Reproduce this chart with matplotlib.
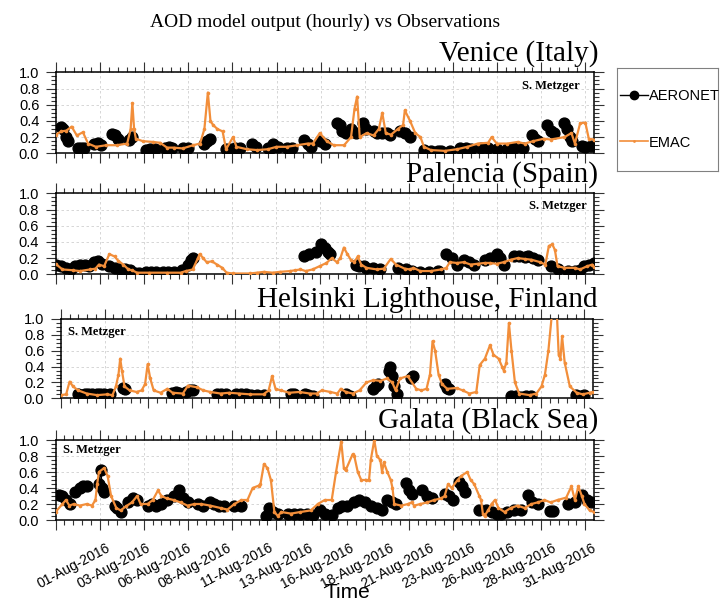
import numpy as np
import matplotlib.pyplot as plt
from matplotlib.lines import Line2D
from matplotlib.ticker import MultipleLocator, FormatStrFormatter

plt.rcParams['font.family'] = ['Liberation Sans', 'DejaVu Sans']

nan = np.nan
emac_color = '#f28e3a'

# time axis: days since 01-Aug-2016 00:00

# ---------------- Venice (Italy) ----------------
venice_emac_day = [0.0, 0.3, 0.6, 0.9, 1.2, 1.55, 1.85, 2.3, 2.9, 3.5, 4.1, 4.3, 4.4, 4.5, 4.6,
                   5.0, 5.6, 6.0, 6.4, 6.8, 7.3, 7.9, 8.3, 8.55, 8.75, 8.9, 9.05, 9.3, 9.6, 9.8,
                   10.2, 10.4, 11.0, 11.6, 12.2, 12.7, 13.3, 13.9, 14.5, 14.8, 15.2, 15.6, 16.0,
                   16.6, 17.0, 17.2, 17.35, 17.5, 17.9, 18.3, 18.6, 18.8, 19.0, 19.3, 19.7, 20.0,
                   20.1, 20.4, 20.7, 21.0, 21.2, 21.6, 22.4, 23.1, 23.7, 24.3, 24.9, 25.1, 25.4,
                   26.0, 26.6, 27.0, 27.5, 28.1, 28.5, 29.3, 29.7, 29.9, 30.2, 30.5, 30.7, 31.0]
venice_emac_aod = [0.23, 0.27, 0.28, 0.33, 0.22, 0.26, 0.12, 0.08, 0.10, 0.10, 0.12, 0.30, 0.62, 0.30, 0.18,
                   0.15, 0.14, 0.13, 0.07, 0.07, 0.06, 0.10, 0.12, 0.30, 0.75, 0.40, 0.35, 0.30, 0.27, 0.05,
                   0.20, 0.08, 0.05, 0.04, 0.05, 0.08, 0.08, 0.10, 0.12, 0.12, 0.25, 0.15, 0.10,
                   0.10, 0.20, 0.55, 0.70, 0.20, 0.25, 0.22, 0.30, 0.50, 0.25, 0.23, 0.30, 0.35,
                   0.53, 0.40, 0.25, 0.20, 0.08, 0.04, 0.03, 0.05, 0.08, 0.12, 0.13, 0.20, 0.12,
                   0.12, 0.14, 0.12, 0.15, 0.18, 0.17, 0.20, 0.25, 0.12, 0.37, 0.38, 0.18, 0.17]
venice_aero_day = [0.3, 0.4, 0.55, 0.7, nan, 1.25, 1.45, 1.6, nan, 2.2, 2.4, 2.6, nan, 3.2, 3.4, 3.6, nan,
                   4.2, 4.4, nan, 5.2, nan, 5.4, 5.7, nan, 6.3, 6.5, 6.7, nan, 7.3, 7.6, nan,
                   8.5, 8.7, 8.9, nan, 9.8, 10.0, nan, 10.3, 10.6, nan, 11.3, 11.5, nan, 12.2, 12.4, nan,
                   12.5, 12.8, nan, 13.3, 13.6, nan, 14.3, 14.5, 14.7, nan, 15.2, 15.5, nan,
                   16.2, 16.35, 16.5, 16.7, nan, 17.0, 17.3, nan, 17.7, 17.85, nan, 18.3, 18.5, 18.8, nan,
                   19.1, 19.25, nan, 19.8, 20.1, 20.4, nan, 21.2, 21.6, 22.0, nan, 22.2, 22.7, nan,
                   23.3, 23.6, 23.9, nan, 24.5, 24.9, nan, 25.4, 26.0, nan, 26.4, 26.9, nan,
                   27.4, 27.6, 27.8, nan, 28.3, 28.5, 28.7, nan, 29.3, 29.45, 29.6, 29.75, nan,
                   30.3, 30.5, 30.8]
venice_aero_aod = [0.32, 0.30, 0.20, 0.15, nan, 0.07, 0.06, 0.06, nan, 0.11, 0.13, 0.10, nan, 0.24, 0.22, 0.18, nan,
                   0.17, 0.20, nan, 0.04, nan, 0.05, 0.05, nan, 0.07, 0.08, 0.07, nan, 0.06, 0.07, nan,
                   0.12, 0.15, 0.18, nan, 0.05, 0.05, nan, 0.06, 0.06, nan, 0.12, 0.08, nan, 0.06, 0.06, nan,
                   0.12, 0.08, nan, 0.06, 0.06, nan, 0.16, 0.12, 0.08, nan, 0.15, 0.12, nan,
                   0.38, 0.35, 0.28, 0.25, nan, 0.30, 0.25, nan, 0.38, 0.30, nan, 0.28, 0.25, 0.25, nan,
                   0.25, 0.22, nan, 0.27, 0.25, 0.20, nan, 0.04, 0.03, 0.03, nan, 0.03, 0.03, nan,
                   0.06, 0.06, 0.05, nan, 0.06, 0.06, nan, 0.05, 0.05, nan, 0.07, 0.06, nan,
                   0.23, 0.18, 0.15, nan, 0.35, 0.28, 0.25, nan, 0.37, 0.30, 0.20, 0.15, nan,
                   0.09, 0.08, 0.09]

# ---------------- Palencia (Spain) ----------------
palencia_emac_day = [0.0, 0.4, 1.0, 1.4, 2.0, 2.3, 2.5, 2.8, 3.1, 3.4, 3.6, 3.9, 4.2, 4.4, 4.7, 5.4,
                     6.4, 7.2, 7.5, 7.9, 8.2, 8.3, 8.5, 8.7, 9.0, 9.3, 9.6, 9.85, 10.2, 11.2, 11.6,
                     12.0, 12.5, 12.9, 13.5, 13.8, 14.1, 14.4, 14.8, 15.2, 15.6, 15.9, 16.2, 16.4,
                     16.6, 16.8, 17.0, 17.2, 17.4, 17.6, 17.9, 18.5, 18.9, 19.3, 19.6, 20.1, 20.4,
                     20.6, 21.0, 21.6, 22.2, 22.5, 22.7, 23.1, 23.5, 23.9, 24.3, 24.7, 25.0, 25.4,
                     25.8, 26.2, 26.6, 27.0, 27.4, 27.9, 28.2, 28.4, 28.6, 28.75, 28.9, 29.3, 29.9,
                     30.2, 30.6, 30.9, 31.0]
palencia_emac_aod = [0.13, 0.06, 0.05, 0.04, 0.06, 0.07, 0.12, 0.10, 0.25, 0.22, 0.17, 0.12, 0.06, 0.05, 0.02, 0.02,
                     0.02, 0.02, 0.04, 0.06, 0.20, 0.25, 0.20, 0.15, 0.16, 0.12, 0.08, 0.02, 0.01, 0.01, 0.02,
                     0.03, 0.02, 0.03, 0.04, 0.05, 0.06, 0.04, 0.06, 0.10, 0.14, 0.20, 0.15, 0.20,
                     0.33, 0.25, 0.18, 0.15, 0.22, 0.12, 0.08, 0.06, 0.07, 0.19, 0.12, 0.07, 0.06,
                     0.08, 0.04, 0.04, 0.06, 0.08, 0.15, 0.14, 0.15, 0.12, 0.13, 0.14, 0.14, 0.13,
                     0.15, 0.18, 0.20, 0.19, 0.18, 0.15, 0.12, 0.35, 0.37, 0.30, 0.10, 0.08, 0.08,
                     0.06, 0.10, 0.12, 0.09]
palencia_aero_day = [0.05, 0.3, 0.6, 0.9, nan, 1.15, 1.4, 1.7, 1.9, nan, 2.2, 2.45, 2.7, nan,
                     3.1, 3.4, 3.7, 4.0, nan, 4.3, 4.6, 4.8, nan, 5.2, 5.5, 5.8, nan, 6.2, 6.5, 6.8, nan,
                     7.3, 7.6, 7.8, 7.9, nan, 14.3, 14.6, 15.0, nan, 15.3, 15.5, 15.7, 15.8, nan,
                     17.3, 17.5, nan, 17.75, 17.9, nan, 18.3, 18.7, nan, 19.7, 20.2, nan,
                     20.5, 21.0, 21.5, 22.0, nan, 22.5, 22.8, 23.1, nan, 23.5, 23.8, 24.1, nan,
                     24.7, 25.0, nan, 25.4, 25.6, 25.8, nan, 26.4, 26.7, 27.0, nan, 27.2, 27.5, 27.8, nan,
                     28.5, 28.9, nan, 29.5, 29.9, 30.2, nan, 30.4, 30.7, 31.0]
palencia_aero_aod = [0.12, 0.10, 0.08, 0.07, nan, 0.10, 0.12, 0.11, 0.10, nan, 0.15, 0.17, 0.13, nan,
                     0.10, 0.08, 0.07, 0.06, nan, 0.05, 0.02, 0.02, nan, 0.03, 0.03, 0.03, nan, 0.03, 0.03, 0.03, nan,
                     0.05, 0.12, 0.18, 0.20, nan, 0.22, 0.25, 0.28, nan, 0.37, 0.33, 0.27, 0.25, nan,
                     0.12, 0.10, nan, 0.10, 0.08, nan, 0.08, 0.06, nan, 0.08, 0.06, nan,
                     0.04, 0.03, 0.03, 0.04, nan, 0.25, 0.20, 0.12, nan, 0.18, 0.15, 0.12, nan,
                     0.18, 0.20, nan, 0.25, 0.20, 0.12, nan, 0.22, 0.22, 0.21, nan, 0.22, 0.20, 0.18, nan,
                     0.10, 0.07, nan, 0.04, 0.04, 0.05, nan, 0.10, 0.12, 0.14]

# ---------------- Helsinki Lighthouse, Finland ----------------
helsinki_emac_day = [0.0, 0.3, 0.5, 0.7, 1.0, 1.5, 2.1, 2.7, 3.0, 3.2, 3.35, 3.45, 3.55, 3.7, 4.0,
                     4.4, 4.7, 4.9, 5.05, 5.2, 5.4, 5.8, 6.2, 6.5, 7.1, 7.4, 7.9, 8.3, 8.7, 9.3,
                     9.8, 10.4, 11.0, 11.8, 12.1, 12.3, 12.5, 12.8, 13.3, 13.9, 14.5, 14.9, 15.2,
                     15.7, 16.1, 16.3, 16.6, 17.0, 17.4, 17.8, 18.2, 18.6, 19.0, 19.3, 19.5, 19.75,
                     20.2, 20.7, 21.0, 21.3, 21.5, 21.65, 21.8, 22.0, 22.2, 22.5, 23.05, 23.4, 23.8,
                     24.2, 24.4, 24.7, 25.0, 25.2, 25.5, 25.7, 25.8, 25.95, 26.1, 26.25, 26.45, 26.7,
                     27.3, 27.7, 28.0, 28.2, 28.4, 28.6, 28.9, 29.0, 29.1, 29.2, 29.35, 29.65, 30.05,
                     30.4, 30.8, 31.0]
helsinki_emac_aod = [0.04, 0.05, 0.21, 0.15, 0.10, 0.06, 0.04, 0.05, 0.04, 0.15, 0.30, 0.50, 0.35, 0.15, 0.10,
                     0.08, 0.10, 0.18, 0.43, 0.25, 0.10, 0.07, 0.12, 0.07, 0.06, 0.16, 0.14, 0.10, 0.08, 0.06,
                     0.07, 0.06, 0.05, 0.05, 0.10, 0.28, 0.12, 0.10, 0.07, 0.08, 0.06, 0.06, 0.10,
                     0.08, 0.06, 0.12, 0.08, 0.06, 0.10, 0.20, 0.23, 0.22, 0.25, 0.20, 0.10, 0.25,
                     0.28, 0.12, 0.10, 0.12, 0.30, 0.72, 0.60, 0.30, 0.18, 0.12, 0.13, 0.10, 0.06,
                     0.08, 0.42, 0.50, 0.67, 0.55, 0.50, 0.40, 0.35, 0.45, 0.95, 0.60, 0.20, 0.06,
                     0.04, 0.06, 0.15, 0.30, 0.60, 1.05, 1.05, 0.55, 0.50, 0.78, 0.45, 0.15, 0.07,
                     0.05, 0.07, 0.08]
helsinki_aero_day = [1.0, 1.2, 1.4, 1.6, 1.8, nan, 2.1, 2.3, 2.5, 2.7, 2.85, nan, 3.6, 3.75, nan,
                     6.45, 6.7, 6.9, nan, 7.3, 7.5, 7.7, nan, 9.1, 9.3, 9.6, nan, 10.2, 10.5, 10.8, nan,
                     11.1, 11.4, 11.8, nan, 13.4, 13.6, nan, 14.2, 14.4, 14.7, nan, 16.6, nan, 16.85, nan,
                     18.2, 18.35, 18.5, nan, 19.1, 19.2, 19.3, 19.4, 19.55, nan, 20.4, 20.5, nan,
                     22.4, 22.5, 22.6, nan, 26.2, 26.5, 26.8, 27.1, 27.4, nan, 30.0, 30.3, 30.5]
helsinki_aero_aod = [0.05, 0.04, 0.05, 0.06, 0.05, nan, 0.05, 0.06, 0.05, 0.04, 0.05, nan, 0.13, 0.12, nan,
                     0.07, 0.08, 0.07, nan, 0.08, 0.10, 0.10, nan, 0.06, 0.06, 0.05, nan, 0.06, 0.06, 0.05, nan,
                     0.04, 0.04, 0.04, nan, 0.06, 0.06, nan, 0.05, 0.04, 0.03, nan, 0.05, nan, 0.03, nan,
                     0.12, 0.15, 0.18, nan, 0.35, 0.40, 0.28, 0.15, 0.05, nan, 0.25, 0.28, nan,
                     0.18, 0.13, 0.12, nan, 0.03, 0.03, 0.02, 0.03, 0.03, nan, 0.04, 0.03, 0.04]

# ---------------- Galata (Black Sea) ----------------
galata_emac_day = [0.0, 0.4, 0.6, 0.8, 1.05, 1.4, 1.8, 2.1, 2.3, 2.4, 2.5, 2.8, 3.0, 3.2, 3.5, 3.75,
                   4.05, 4.4, 4.7, 4.9, 5.3, 5.6, 5.9, 6.1, 6.4, 6.8, 7.2, 7.6, 8.0, 8.4, 8.9, 9.5,
                   9.9, 10.3, 10.7, 11.05, 11.35, 11.7, 11.8, 12.0, 12.2, 12.4, 12.6, 12.8, 13.0,
                   13.55, 14.1, 14.7, 15.1, 15.5, 15.9, 16.15, 16.45, 16.6, 16.7, 17.1, 17.2, 17.4,
                   17.6, 17.9, 18.05, 18.15, 18.35, 18.5, 18.7, 18.8, 18.9, 19.1, 19.3, 19.4, 19.5,
                   19.9, 20.3, 20.5, 20.65, 21.0, 21.4, 21.8, 22.2, 22.4, 22.6, 22.8, 23.15, 23.35,
                   23.7, 23.9, 24.1, 24.4, 24.5, 24.6, 24.7, 24.9, 25.1, 25.3, 25.5, 25.85, 26.2,
                   26.6, 27.0, 27.4, 27.75, 28.15, 28.5, 28.9, 29.4, 29.7, 29.9, 30.1, 30.3, 30.45,
                   30.75, 31.0]
galata_emac_aod = [0.10, 0.20, 0.25, 0.18, 0.20, 0.18, 0.20, 0.18, 0.25, 0.45, 0.60, 0.65, 0.55, 0.30, 0.15, 0.12,
                   0.17, 0.22, 0.30, 0.20, 0.20, 0.25, 0.37, 0.30, 0.27, 0.25, 0.22, 0.18, 0.20, 0.20, 0.18, 0.15,
                   0.13, 0.20, 0.25, 0.25, 0.40, 0.43, 0.45, 0.70, 0.65, 0.50, 0.10, 0.05, 0.10,
                   0.08, 0.10, 0.12, 0.20, 0.25, 0.25, 0.60, 0.98, 0.65, 0.62, 0.82, 0.80, 0.60,
                   0.50, 0.50, 0.50, 0.75, 1.00, 0.80, 0.75, 0.60, 0.72, 0.60, 0.50, 0.40, 0.20,
                   0.18, 0.20, 0.22, 0.18, 0.20, 0.22, 0.25, 0.27, 0.30, 0.45, 0.40, 0.50, 0.55,
                   0.60, 0.50, 0.45, 0.30, 0.25, 0.08, 0.05, 0.12, 0.20, 0.25, 0.15, 0.10, 0.15,
                   0.18, 0.15, 0.20, 0.22, 0.25, 0.22, 0.25, 0.28, 0.42, 0.25, 0.42, 0.30, 0.20,
                   0.12, 0.10]
galata_aero_day = [0.2, 0.4, 0.6, 0.85, nan, 1.15, 1.4, 1.6, 1.8, nan, 2.5, 2.6, 2.7, 2.8, nan,
                   3.4, 3.55, 3.75, nan, 4.2, 4.45, 4.7, nan, 5.3, 5.55, 5.8, nan, 6.05, 6.4, 6.8, nan,
                   7.1, 7.35, 7.6, nan, 8.2, 8.5, 8.9, nan, 9.1, 9.4, 9.7, nan, 10.3, 10.7, nan,
                   12.1, 12.3, 12.5, 12.8, nan, 13.4, 13.75, nan, 14.1, 14.5, 14.8, nan, 15.2, 15.5, 15.9, nan,
                   16.25, 16.5, 16.8, nan, 17.2, 17.5, 17.8, nan, 18.15, 18.5, 18.8, nan, 19.1, 19.35, 19.6, nan,
                   20.2, 20.35, 20.55, nan, 21.1, 21.4, 21.7, nan, 22.4, 22.65, 22.9, nan, 23.2, 23.4, 23.6, nan,
                   24.4, 24.8, nan, 25.1, 25.4, 25.65, nan, 26.0, 26.4, 26.8, nan, 27.2, 27.45, 27.75, nan,
                   28.45, 28.65, nan, 29.5, 29.9, nan, 30.3, 30.6, 30.85]
galata_aero_aod = [0.31, 0.30, 0.25, 0.20, nan, 0.35, 0.40, 0.42, 0.43, nan, 0.45, 0.62, 0.40, 0.35, nan,
                   0.18, 0.15, 0.10, nan, 0.22, 0.28, 0.25, nan, 0.18, 0.20, 0.18, nan, 0.20, 0.25, 0.30, nan,
                   0.38, 0.28, 0.22, nan, 0.20, 0.18, 0.22, nan, 0.20, 0.18, 0.18, nan, 0.18, 0.18, nan,
                   0.05, 0.15, 0.10, 0.08, nan, 0.08, 0.08, nan, 0.07, 0.07, 0.06, nan, 0.12, 0.08, 0.06, nan,
                   0.15, 0.18, 0.18, nan, 0.22, 0.25, 0.22, nan, 0.17, 0.15, 0.13, nan, 0.25, 0.22, 0.20, nan,
                   0.46, 0.38, 0.33, nan, 0.37, 0.30, 0.28, nan, 0.33, 0.30, 0.25, nan, 0.48, 0.42, 0.35, nan,
                   0.12, 0.12, nan, 0.10, 0.08, 0.08, nan, 0.10, 0.12, 0.12, nan, 0.31, 0.22, 0.20, nan,
                   0.11, 0.11, nan, 0.20, 0.22, nan, 0.31, 0.25, 0.22]

station_names = ['Venice (Italy)', 'Palencia (Spain)', 'Helsinki Lighthouse, Finland', 'Galata (Black Sea)']
emac_days = [venice_emac_day, palencia_emac_day, helsinki_emac_day, galata_emac_day]
emac_aods = [venice_emac_aod, palencia_emac_aod, helsinki_emac_aod, galata_emac_aod]
aero_days = [venice_aero_day, palencia_aero_day, helsinki_aero_day, galata_aero_day]
aero_aods = [venice_aero_aod, palencia_aero_aod, helsinki_aero_aod, galata_aero_aod]

date_labels = ['01-Aug-2016', '03-Aug-2016', '06-Aug-2016', '08-Aug-2016', '11-Aug-2016',
               '13-Aug-2016', '16-Aug-2016', '18-Aug-2016', '21-Aug-2016', '23-Aug-2016',
               '26-Aug-2016', '28-Aug-2016', '31-Aug-2016']

# panel boxes in pixels: left, right, top, bottom
W, H = 720, 601
boxes = [(56, 594, 72.3, 153.3),
         (55.5, 594, 193.3, 274.3),
         (61, 593, 319, 398.3),
         (55.5, 594, 440, 520)]
# where the "S. Metzger" tag goes in each panel (axes fraction, alignment)
tags = [(0.974, 0.825, 'right'), (0.987, 0.843, 'right'),
        (0.013, 0.83, 'left'), (0.014, 0.88, 'left')]

fig = plt.figure(figsize=(W / 100, H / 100), dpi=100)

for i in range(4):
    l, r, t, b = boxes[i]
    ax = fig.add_axes([l / W, 1 - b / H, (r - l) / W, (b - t) / H])

    ax.plot(aero_days[i], aero_aods[i], color='black', lw=1.0, marker='o', ms=7.8, zorder=2)
    ax.plot(emac_days[i], emac_aods[i], color=emac_color, lw=1.6, marker='o', ms=2.6,
            mew=0, zorder=3)

    ax.set_xlim(0, 31)
    ax.set_ylim(0, 1.0)
    # major tick every 61 h, minor every 12.2 h
    ax.xaxis.set_major_locator(MultipleLocator(61 / 24))
    ax.xaxis.set_minor_locator(MultipleLocator(61 / 24 / 5))
    ax.yaxis.set_major_locator(MultipleLocator(0.2))
    ax.yaxis.set_minor_locator(MultipleLocator(0.05))
    ax.yaxis.set_major_formatter(FormatStrFormatter('%.1f'))
    ax.tick_params(which='both', direction='out', top=True, right=True, color='#333333',
                   width=0.8, labelbottom=False)
    ax.tick_params(which='major', length=7, labelsize=10.5, pad=5)
    ax.tick_params(which='minor', length=3.5)
    ax.grid(which='major', color='#d0d0d0', lw=0.6, ls=(0, (3, 3)))
    for s in ax.spines.values():
        s.set_linewidth(1.1)

    ax.annotate(station_names[i], xy=(1, 1), xycoords='axes fraction', xytext=(3, 8.6),
                textcoords='offset points', ha='right', va='baseline',
                family='Liberation Serif', fontsize=21)
    tx, ty, ta = tags[i]
    ax.text(tx, ty, 'S. Metzger', transform=ax.transAxes, ha=ta, va='center',
            family='Liberation Serif', fontweight='bold', fontsize=9)

# date labels along the bottom panel, spaced on their own grid
label_pos = np.linspace(2.9, 30.9, len(date_labels))
for pos, lab in zip(label_pos, date_labels):
    ax.annotate(lab, xy=(pos, 0), xycoords=('data', 'axes fraction'), xytext=(0, -15),
                textcoords='offset points', rotation=28, rotation_mode='anchor',
                ha='right', va='top', fontsize=10)

fig.text(347 / W, 3 / H, 'Time', ha='center', va='baseline', fontsize=15)
fig.text(325 / W, 1 - 27 / H, 'AOD model output (hourly) vs Observations', ha='center',
         va='baseline', family='Liberation Serif', fontsize=14)

# legend in its own framed box to the right of the panels
lax = fig.add_axes([617 / W, 1 - 171 / H, 101 / W, 103 / H])
lax.set_xticks([])
lax.set_yticks([])
for s in lax.spines.values():
    s.set_color('#808080')
    s.set_linewidth(0.8)
handles = [Line2D([], [], color='black', lw=1.0, marker='o', ms=6),
           Line2D([], [], color=emac_color, lw=1.2, marker='o', ms=2, mew=0)]
lax.legend(handles, ['AERONET', 'EMAC'], loc='center left', frameon=False, fontsize=10.5,
           labelspacing=2.2, handlelength=1.9, handletextpad=0.1, borderaxespad=0.0,
           borderpad=0.2)

fig.savefig('out.png', dpi=100)
